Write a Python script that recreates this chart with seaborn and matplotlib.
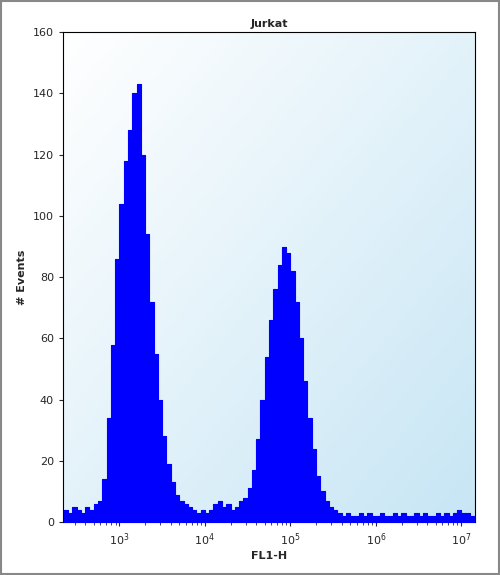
import numpy as np
import pandas as pd
import matplotlib
matplotlib.use("Agg")
import matplotlib.pyplot as plt
import seaborn as sns

title = "Jurkat"
xlabel = "FL1-H"
ylabel = "# Events"
bin_start = 2.35
bin_width = 0.05
counts = [4,3,5,4,3,5,4,6,
          7,14,34,58,86,104,118,128,140,143,120,94,72,55,40,28,19,13,9,7,6,5,4,3,4,3,4,6,7,5,6,4,5,7,8,
          11,17,27,40,54,66,76,84,90,88,82,72,60,46,34,24,15,10,7,5,4,3,
          2,3,2,2,3,2,3,2,2,3,2,2,3,2,3,2,2,3,2,3,2,2,3,2,3,2,3,4,3,3,2]
xticks = [3,4,5,6,7]

edges = bin_start + bin_width*np.arange(len(counts)+1)
centers = (edges[:-1]+edges[1:])/2
df = pd.DataFrame({"x": centers, "w": np.array(counts, dtype=float)})

sns.set_style("white")
fig = plt.figure(figsize=(5,5.75), dpi=100)
ax = fig.add_axes([0.126,0.092,0.824,0.852])
sns.histplot(data=df, x="x", weights="w", bins=len(counts), binrange=(edges[0], edges[-1]),
             element="step", fill=True, color="#0000ff", alpha=1, linewidth=0.8, ax=ax, zorder=3)
ax.set_xlim(2.34,7.16); ax.set_ylim(0,160)
xx, yy = np.meshgrid(np.linspace(0,1,200), np.linspace(0,1,200))
t = np.clip((xx + yy)/2, 0, 1)
c0 = np.array([1,1,1]); c1 = np.array([0.78,0.9,0.96])
img = c0[None,None,:]*(1-t[...,None]) + c1[None,None,:]*t[...,None]
ax.imshow(img, extent=[2.34,7.16,0,160], aspect="auto", origin="upper", zorder=0)
ax.set_xticks(xticks)
ax.set_xticklabels([f"$10^{k}$" for k in xticks], fontsize=8)
ax.set_yticks(range(0,161,20))
ax.tick_params(axis="y", labelsize=8, length=3, direction="out", left=True)
ax.tick_params(axis="x", length=3, direction="out", bottom=True)
ax.set_xticks([np.log10(m*10**k) for k in range(2,8) for m in range(2,10) if 2.34<np.log10(m*10**k)<7.16], minor=True)
ax.tick_params(axis="x", which="minor", length=2, bottom=True)
ax.set_title(title, fontsize=8, fontweight="bold", pad=4)
ax.set_xlabel(xlabel, fontsize=8, fontweight="bold", labelpad=2)
ax.set_ylabel(ylabel, fontsize=8, fontweight="bold", labelpad=4)
for s in ax.spines.values():
    s.set_color("black"); s.set_linewidth(0.8)
fig.patches.append(plt.Rectangle((0.002,0.002),0.996,0.996, transform=fig.transFigure,
                                 fill=False, edgecolor="#888888", linewidth=1.5))
fig.savefig("out.png", dpi=100)
